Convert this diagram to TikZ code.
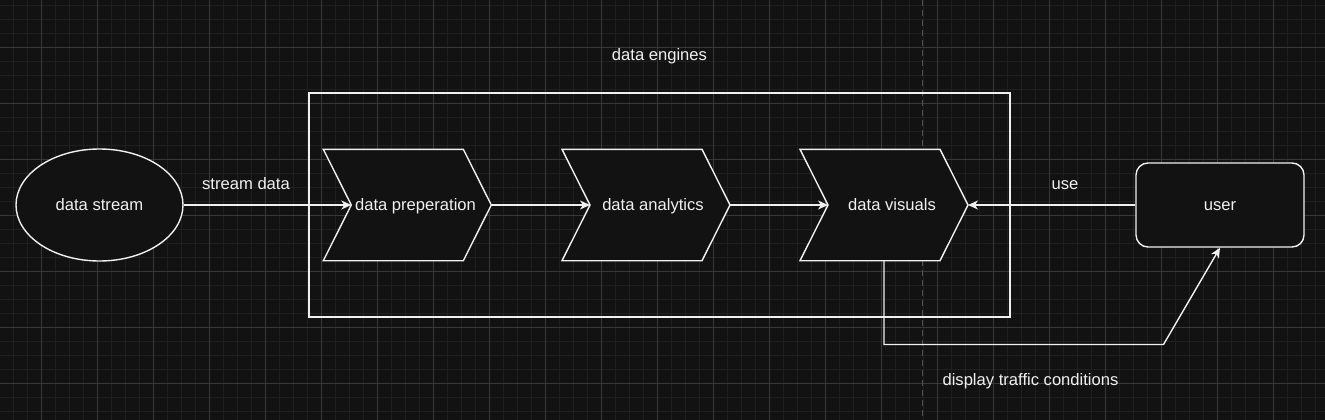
\documentclass[tikz,border=0pt]{standalone}
\usepackage{fontspec}
\setmainfont{Liberation Sans}
\usetikzlibrary{arrows.meta,shapes.geometric}
\definecolor{bg}{HTML}{121212}
\definecolor{gridminor}{HTML}{1F1F1F}
\definecolor{gridmajor}{HTML}{383838}
\definecolor{dashcol}{HTML}{505050}
\definecolor{fg}{HTML}{F0F0F0}
\tikzset{
  shapeline/.style={draw=fg, line width=1.4pt, fill=bg},
  conn/.style={draw=fg, line width=1.4pt, -{Stealth[length=10pt,width=9pt,inset=3pt]}},
  lbl/.style={text=fg, font=\fontsize{16.6}{20}\selectfont, inner sep=0pt, text height=15pt, text depth=3.5pt},
}
\begin{document}
\begin{tikzpicture}[x=1pt,y=-1pt]
\useasboundingbox (0,0) rectangle (1325,420);
\fill[bg] (0,0) rectangle (1325,420);
% grid
\foreach \i in {0,...,94} \draw[gridminor, line width=1pt] ({13.3+14*\i},0) -- ({13.3+14*\i},420);
\foreach \j in {0,...,29} \draw[gridminor, line width=1pt] (0,{5.3+14*\j}) -- (1325,{5.3+14*\j});
\foreach \i in {0,...,23} \draw[gridmajor, line width=1pt] ({41.3+56*\i},0) -- ({41.3+56*\i},420);
\foreach \j in {0,...,7} \draw[gridmajor, line width=1pt] (0,{47.3+56*\j}) -- (1325,{47.3+56*\j});
% dashed guide
\draw[dashcol, line width=1.3pt, dash pattern=on 6pt off 4pt] (922.3,0) -- (922.3,420);
% container
\node[draw=fg, line width=1.4pt, minimum width=701pt, minimum height=224pt, inner sep=0pt] (engines) at (659.5,205) {};
\node[lbl] (enginesLabel) at (659.5,55) {data engines};
% data stream
\node[shapeline, ellipse, minimum width=167pt, minimum height=112pt, inner sep=0pt, lbl] (stream) at (99.5,205) {data stream};
% chevrons
\foreach \L/\nm in {323.3/prep, 562/anal, 800/vis} {
  \fill[bg] (\L,149.3) -- ({\L+140},149.3) -- ({\L+168},205) -- ({\L+140},260.7) -- (\L,260.7) -- ({\L+28},205) -- cycle;
  \draw[fg, line width=1.4pt, line join=miter] (\L,149.3) -- ({\L+140},149.3) -- ({\L+168},205) -- ({\L+140},260.7) -- (\L,260.7) -- ({\L+28},205) -- cycle;
  \coordinate (\nm-in) at ({\L+28},205);
  \coordinate (\nm-out) at ({\L+168},205);
  \coordinate (\nm-bot) at ({\L+84},260.7);
}
\node[lbl] (prepText) at (415.5,205) {data preperation};
\node[lbl] (analText) at (653,205) {data analytics};
\node[lbl] (visText) at (892,205) {data visuals};
% user
\node[shapeline, rounded corners=12pt, minimum width=168pt, minimum height=84pt, inner sep=0pt, lbl] (user) at (1220,205) {user};
% connectors
\draw[conn] (stream.east) -- (prep-in);
\node[lbl] (streamLbl) at (246,184) {stream data};
\draw[conn] (prep-out) -- (anal-in);
\draw[conn] (anal-out) -- (vis-in);
\draw[conn] (user.west) -- (vis-out);
\node[lbl] (useLbl) at (1065,184) {use};
\coordinate (bend1) at (884,344.5);
\coordinate (bend2) at (1163.5,344.5);
\draw[conn] (vis-bot) -- (bend1) -- (bend2) -- (user.south);
\node[lbl] (dispLbl) at (1030.5,380) {display traffic conditions};
\end{tikzpicture}
\end{document}
